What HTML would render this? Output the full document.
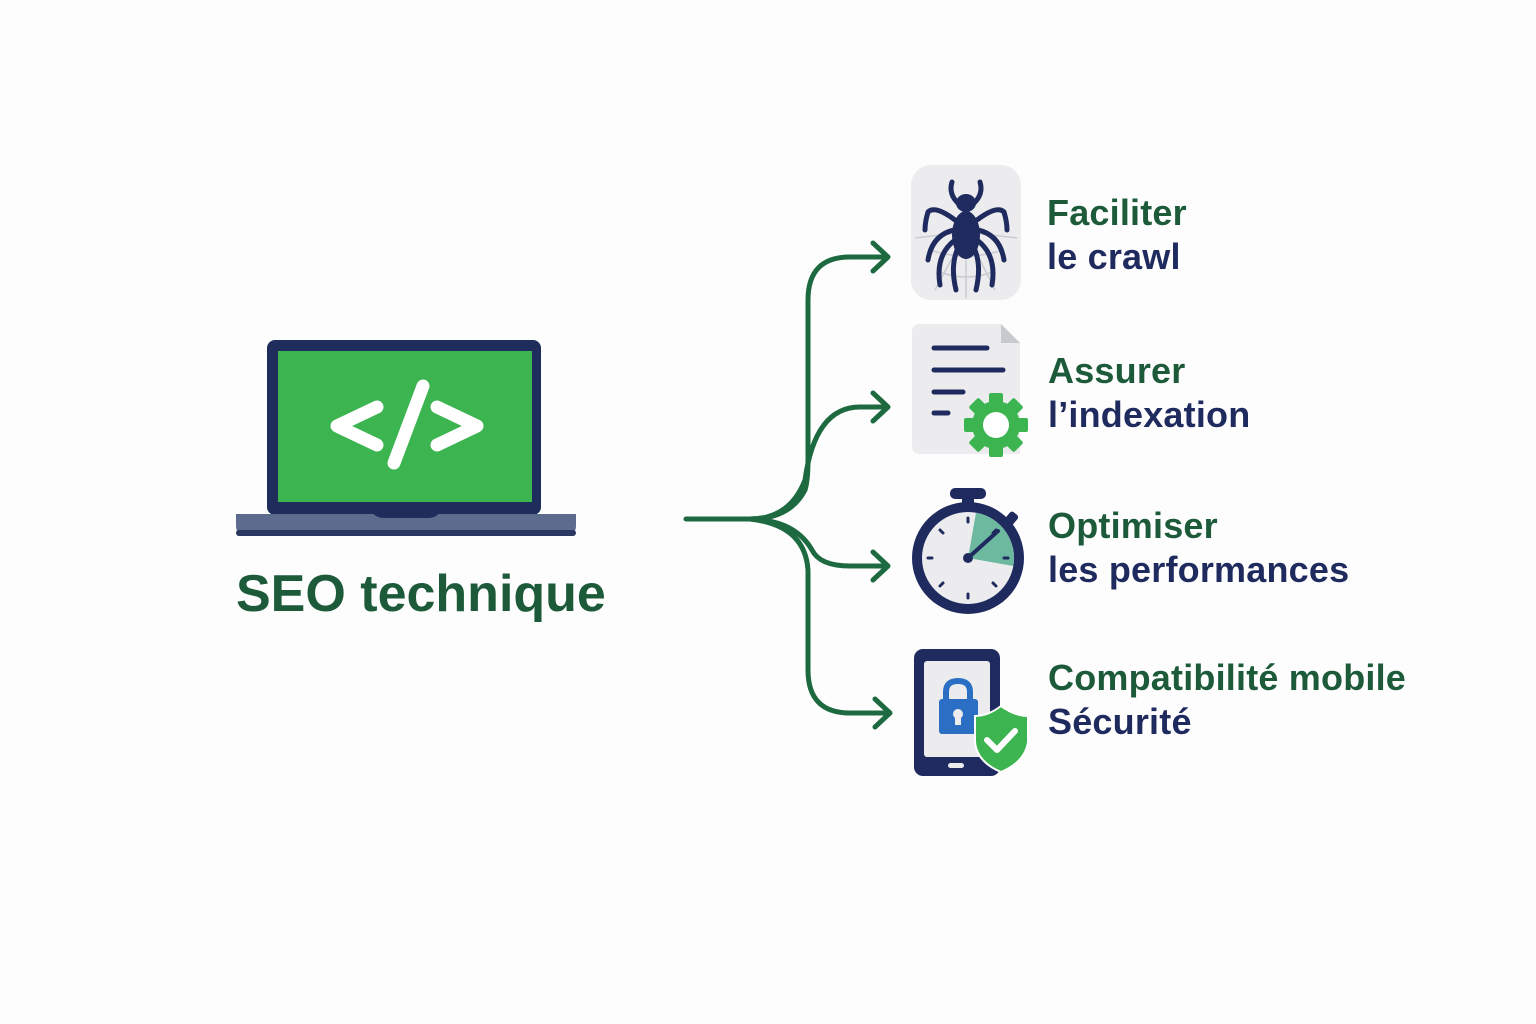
<!DOCTYPE html>
<html><head><meta charset="utf-8"><style>
html,body{margin:0;padding:0;background:#fdfdfd;}
body{width:1536px;height:1024px;position:relative;overflow:hidden;font-family:"Liberation Sans",sans-serif;}
.t{position:absolute;font-size:36px;line-height:44px;font-weight:bold;letter-spacing:0.2px}
.g{color:#1c5a3a}.n{color:#1f2b5e}
</style></head><body>
<svg width="1536" height="1024" style="position:absolute;left:0;top:0">
<rect x="267" y="340" width="274" height="175" rx="8" fill="#1f2d5c"/>
<rect x="278" y="351" width="254" height="151" fill="#3cb450"/>
<path d="M236 514 H576 V526 Q576 536 562 536 H250 Q236 536 236 526 Z" fill="#5c6b8e"/>
<rect x="236" y="530" width="340" height="6" rx="3" fill="#2a3760"/>
<path d="M372 512 H440 Q436 518 428 518 H384 Q376 518 372 512Z" fill="#1f2d5c"/>
<g stroke="#fff" stroke-width="13" stroke-linecap="round" stroke-linejoin="round" fill="none">
<path d="M377 407 L337 426 L377 445"/><path d="M437 407 L477 426 L437 445"/><path d="M423 386 L394 463"/>
</g>
<g stroke="#1e6a40" stroke-width="5" fill="none" stroke-linecap="round" stroke-linejoin="round">
<path d="M686 519 H750 Q790 519 805 490 Q808 480 808 460 V300 Q808 257 850 257 H886"/>
<path d="M750 519 Q790 519 805 480 Q815 407 860 407 H886"/>
<path d="M750 519 Q795 520 812 550 Q820 566 850 566 H886"/>
<path d="M750 519 Q805 525 808 570 V670 Q808 713 850 713 H888"/>
<path d="M873 243 L888 257 L873 271"/><path d="M873 393 L888 407 L873 421"/>
<path d="M873 552 L888 566 L873 580"/><path d="M875 699 L890 713 L875 727"/>
</g>
<rect x="911" y="165" width="110" height="135" rx="20" fill="#ececef"/>
<g stroke="#c9cbd2" stroke-width="1.5" fill="none">
<path d="M915 238 L966 232 L1017 238 M935 290 L966 232 L995 290 M966 232 V298"/>
<path d="M930 250 Q966 262 1003 250 M940 272 Q966 282 993 272"/>
</g>
<g stroke="#1f2b5e" stroke-width="5" fill="none" stroke-linecap="round">
<path d="M960 205 Q948 195 952 182"/><path d="M972 205 Q984 195 980 182"/>
<path d="M955 220 Q935 205 928 212 Q925 222 925 230"/><path d="M977 220 Q997 205 1004 212 Q1007 222 1007 230"/>
<path d="M954 230 Q932 235 928 260"/><path d="M978 230 Q1000 235 1004 260"/>
<path d="M955 240 Q935 255 940 285"/><path d="M977 240 Q997 255 992 285"/>
<path d="M958 248 Q950 265 956 290"/><path d="M974 248 Q982 265 976 290"/>
</g>
<ellipse cx="966" cy="203" rx="10" ry="9" fill="#1f2b5e"/>
<ellipse cx="966" cy="235" rx="14" ry="24" fill="#1f2b5e"/>
<path d="M920 324 H1001 L1020 343 V454 H920 Q912 454 912 446 V332 Q912 324 920 324Z" fill="#ececef"/>
<path d="M1001 324 V343 H1020Z" fill="#c8c9cf"/>
<g stroke="#1f2b5e" stroke-width="5" stroke-linecap="round">
<line x1="934" y1="348" x2="987" y2="348"/><line x1="934" y1="370" x2="1003" y2="370"/>
<line x1="934" y1="392" x2="963" y2="392"/><line x1="934" y1="413" x2="948" y2="413"/>
</g>
<g transform="translate(996,425)" fill="#3cb450">
<circle r="24"/>
<g><rect x="-7" y="-32" width="14" height="64" rx="2"/><rect x="-7" y="-32" width="14" height="64" rx="2" transform="rotate(45)"/><rect x="-7" y="-32" width="14" height="64" rx="2" transform="rotate(90)"/><rect x="-7" y="-32" width="14" height="64" rx="2" transform="rotate(135)"/></g>
<circle r="13" fill="#fff"/>
</g>
<rect x="950" y="488" width="36" height="11" rx="5" fill="#1f2b5e"/>
<rect x="962" y="496" width="12" height="12" fill="#1f2b5e"/>
<rect x="1006" y="512" width="10" height="14" rx="3" fill="#1f2b5e" transform="rotate(40 1011 519)"/>
<circle cx="968" cy="558" r="56" fill="#1f2b5e"/>
<circle cx="968" cy="558" r="46" fill="#ececef"/>
<path d="M968 558 L968 512 A46 46 0 0 1 1014 558 Z" fill="#6db9a0" transform="rotate(10 968 558)"/>
<g stroke="#1f2b5e" stroke-width="3" stroke-linecap="round">
<line x1="968" y1="518" x2="968" y2="522"/><line x1="968" y1="594" x2="968" y2="598"/>
<line x1="928" y1="558" x2="932" y2="558"/><line x1="1004" y1="558" x2="1008" y2="558"/>
<line x1="940" y1="530" x2="943" y2="533"/><line x1="996" y1="586" x2="993" y2="583"/>
<line x1="940" y1="586" x2="943" y2="583"/><line x1="996" y1="530" x2="993" y2="533"/>
<line x1="968" y1="558" x2="998" y2="531" stroke-width="4"/>
</g>
<circle cx="968" cy="558" r="5" fill="#1f2b5e"/>
<rect x="914" y="649" width="86" height="127" rx="9" fill="#1f2b5e"/>
<rect x="924" y="661" width="66" height="96" rx="3" fill="#ececef"/>
<rect x="948" y="763" width="16" height="5" rx="2.5" fill="#ececef"/>
<path d="M946 700 V692 Q946 681 958 681 Q970 681 970 692 V700" stroke="#2a6fc4" stroke-width="6" fill="none"/>
<rect x="939" y="699" width="39" height="35" rx="3" fill="#2a6fc4"/>
<circle cx="958" cy="714" r="5" fill="#ececef"/><rect x="955" y="716" width="6" height="9" fill="#ececef"/>
<path d="M1001 706 Q988 716 975 716 V742 Q977 762 1001 772 Q1025 762 1028 742 V716 Q1015 716 1001 706Z" fill="#3cb450" stroke="#ffffff" stroke-width="2"/>
<path d="M987 740 L997 750 L1015 731" stroke="#fff" stroke-width="6" fill="none" stroke-linecap="round" stroke-linejoin="round"/>
</svg>
<div class="t g" style="left:236px;top:564px;font-size:52px;line-height:60px;font-weight:bold;letter-spacing:0px">SEO technique</div>
<div class="t" style="left:1047px;top:191px"><span class="g">Faciliter</span><br><span class="n">le crawl</span></div>
<div class="t" style="left:1048px;top:349px"><span class="g">Assurer</span><br><span class="n">l’indexation</span></div>
<div class="t" style="left:1048px;top:504px"><span class="g">Optimiser</span><br><span class="n">les performances</span></div>
<div class="t" style="left:1048px;top:656px"><span class="g">Compatibilité mobile</span><br><span class="n">Sécurité</span></div>
</body></html>
